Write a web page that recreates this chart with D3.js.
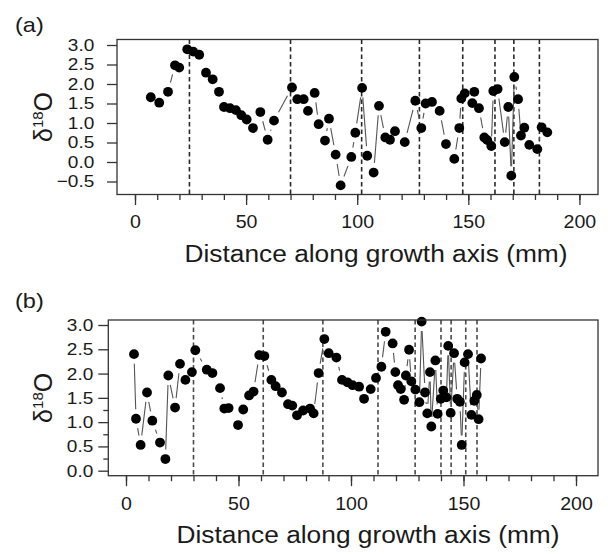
<!DOCTYPE html>
<html>
<head>
<meta charset="utf-8">
<script src="https://cdn.jsdelivr.net/npm/d3@7"></script>
<style>
body { margin: 0; background: #fff; }
text { font-family: "Liberation Sans", Arial, sans-serif; fill: #1a1a1a; }
</style>
</head>
<body>
<script>

// panel (a)
var aDist = [7.1, 10.9, 14.85, 18.0, 19.9, 23.5, 26.2, 28.9, 31.95, 34.95, 37.8, 40.05, 42.75, 45.4, 47.85,
  50.25, 53.1, 56.4, 59.7, 62.55, 70.65, 73.05, 75.9, 77.85, 80.85, 82.65, 85.5, 87.3, 90.3, 92.55,
  97.35, 99.15, 102.2, 104.5, 107.4, 109.8, 112.65, 114.75, 117.0, 121.4, 126.15, 128.85, 130.8, 133.65,
  137.1, 139.95, 143.7, 145.95, 146.85, 148.4, 151.8, 152.7, 154.8, 157.2, 158.55, 160.35, 161.25, 163.2,
  166.4, 168.0, 169.35, 170.7, 172.4, 173.7, 175.2, 177.45, 181.05, 183.0, 185.55];
var aD18O = [1.66, 1.52, 1.80, 2.48, 2.42, 2.89, 2.83, 2.75, 2.29, 2.12, 1.80, 1.41, 1.38, 1.33, 1.20,
  1.09, 0.87, 1.28, 0.57, 1.06, 1.91, 1.61, 1.61, 1.31, 1.77, 0.97, 0.55, 1.11, 0.19, -0.60,
  0.13, 0.75, 1.90, 0.16, -0.27, 1.44, 0.63, 0.57, 0.79, 0.51, 1.57, 0.87, 1.50, 1.54,
  1.31, 0.46, 0.08, 0.87, 1.63, 1.76, 1.51, 1.80, 1.38, 0.63, 0.56, 0.41, 1.82, 1.87,
  0.51, 1.41, -0.35, 2.18, 1.61, 0.68, 0.88, 0.44, 0.33, 0.89, 0.76];
var aBands = [24.5, 70, 102, 128, 147.5, 162, 170.5, 182];
var aYTicks = [-0.5, 0, 0.5, 1.0, 1.5, 2.0, 2.5, 3.0];

// panel (b)
var bDist = [3.56, 4.44, 6.5, 9.33, 11.7, 15.1, 17.5, 18.8, 21.8, 24.0, 26.4, 29.3, 30.8, 35.9, 38.4,
  41.8, 43.7, 45.6, 49.8, 52.1, 54.7, 56.7, 59.2, 61.5, 64.6, 66.5, 69.3, 72.0, 73.9, 76.0,
  78.7, 81.8, 83.4, 85.6, 88.15, 90.1, 93.5, 96.0, 98.4, 100.7, 103.6, 105.8, 108.75, 111.1,
  113.5, 115.4, 118.5, 119.7, 120.9, 122.1, 123.6, 124.4, 125.8, 126.8, 128.6, 130.4, 131.4,
  132.9, 133.9, 135.1, 135.7, 137.5, 138.5, 139.9, 141.0, 142.4, 143.2, 144.3, 145.8, 147.2,
  148.4, 149.2, 150.5, 152.0, 153.5, 154.8, 155.9, 156.7, 157.8];
var bD18O = [2.40, 1.07, 0.53, 1.61, 1.03, 0.58, 0.24, 1.96, 1.30, 2.20, 1.87, 2.03, 2.48, 2.08, 2.01,
  1.70, 1.28, 1.29, 0.94, 1.26, 1.55, 1.63, 2.38, 2.36, 1.87, 1.74, 1.61, 1.37, 1.34, 1.14,
  1.24, 1.28, 1.18, 2.01, 2.71, 2.42, 2.33, 1.87, 1.82, 1.76, 1.73, 1.48, 1.68, 1.91,
  2.14, 2.86, 2.62, 2.03, 1.76, 1.68, 1.46, 1.96, 2.49, 1.84, 1.67, 1.41, 3.07,
  1.61, 1.18, 2.03, 0.91, 2.27, 1.17, 1.48, 1.65, 1.51, 2.57, 1.19, 2.42, 1.48,
  1.42, 0.53, 2.23, 2.40, 1.15, 1.44, 1.56, 1.06, 2.31];
var bBands = [30, 61, 87.5, 112, 128.5, 140, 144.5, 151, 156];
var bYTicks = [0, 0.5, 1.0, 1.5, 2.0, 2.5, 3.0];
var bYMinor = [0.25, 0.75, 1.25];

var xTicks = [0, 50, 100, 150, 200];
var xMinor = d3.range(0, 201, 10);

var sx = 1.12; // the picture is a little wider than tall

var svg = d3.select("body").append("svg")
  .attr("width", 608).attr("height", 554);

function panel(p) {
  var x = d3.scaleLinear().domain([0, 200]).range(p.xr);
  var y = d3.scaleLinear().domain(p.yd).range(p.yr);
  var g = svg.append("g");

  // dashed bands
  g.selectAll(".band").data(p.bands).enter().append("line")
    .attr("x1", d => x(d)).attr("x2", d => x(d))
    .attr("y1", p.top).attr("y2", p.bottom)
    .style("stroke", p.bandColor).style("stroke-width", 1.6)
    .style("stroke-dasharray", "4.5,3");

  // lines between points, broken near each point (R type="b")
  var pts = p.dist.map((d, i) => [x(d), y(p.vals[i])]);
  var gap = 9.5, segs = [];
  for (var i = 1; i < pts.length; i++) {
    var a = pts[i - 1], b = pts[i];
    var dx = b[0] - a[0], dy = b[1] - a[1], len = Math.sqrt(dx * dx + dy * dy);
    if (len <= 2 * gap + 1) continue;
    var ux = dx / len, uy = dy / len;
    segs.push([a[0] + ux * gap, a[1] + uy * gap, b[0] - ux * gap, b[1] - uy * gap]);
  }
  g.selectAll(".seg").data(segs).enter().append("line")
    .attr("x1", d => d[0]).attr("y1", d => d[1])
    .attr("x2", d => d[2]).attr("y2", d => d[3])
    .style("stroke", "#555").style("stroke-width", 1.1);

  g.selectAll(".pt").data(pts).enter().append("circle")
    .attr("cx", d => d[0]).attr("cy", d => d[1])
    .attr("r", 4.9).style("fill", "#000");

  // box
  g.append("rect")
    .attr("x", p.left).attr("y", p.top)
    .attr("width", p.right - p.left).attr("height", p.bottom - p.top)
    .style("fill", "none").style("stroke", "#333").style("stroke-width", 1.3);

  // x axis
  var xa = g.append("g").attr("transform", "translate(0," + p.bottom + ")");
  xa.call(d3.axisBottom(x).tickValues(xMinor).tickSize(5.5).tickFormat(""));
  var xb = g.append("g").attr("transform", "translate(0," + p.bottom + ")");
  xb.call(d3.axisBottom(x).tickValues(xTicks).tickSize(10.5).tickPadding(10.9).tickFormat(d3.format("d")));
  g.selectAll(".domain").remove();
  xb.selectAll("text").style("font-size", "17.5px").attr("transform", "scale(" + sx + ",1)");

  // y axis
  var ya = g.append("g").attr("transform", "translate(" + p.left + ",0)");
  ya.call(d3.axisLeft(y).tickValues(p.yTicks).tickSize(10).tickPadding(p.yPad).tickFormat(d3.format(".1f")));
  ya.select(".domain").remove();
  ya.selectAll("text").style("font-size", "17px").attr("transform", "scale(" + sx + ",1)");
  if (p.yMinor) {
    var ym = g.append("g").attr("transform", "translate(" + p.left + ",0)");
    ym.call(d3.axisLeft(y).tickValues(p.yMinor).tickSize(5).tickFormat(""));
    ym.select(".domain").remove();
  }
  g.selectAll(".tick line").style("stroke", "#333").style("stroke-width", 1.3);

  // axis titles
  g.append("text")
    .attr("transform", "translate(" + p.titleX + "," + (p.bottom + 67.4) + ") scale(" + sx + ",1)")
    .attr("text-anchor", "middle").style("font-size", "23.5px")
    .text("Distance along growth axis (mm)");

  var yl = g.append("text")
    .attr("transform", "translate(52," + ((p.top + p.bottom) / 2) + ") rotate(-90)")
    .attr("text-anchor", "middle").style("font-size", "25px");
  yl.append("tspan").text("δ");
  yl.append("tspan").attr("dy", -9).style("font-size", "15px").text("18");
  yl.append("tspan").attr("dy", 9).text("O");

  g.append("text")
    .attr("transform", "translate(15," + p.labelY + ") scale(" + sx + ",1)")
    .style("font-size", "21px").text(p.label);
}

panel({
  label: "(a)", labelY: 32.3,
  dist: aDist, vals: aD18O, bands: aBands, bandColor: "#2a2a2a",
  left: 117, right: 598, top: 39.5, bottom: 194.5,
  xr: [135, 579.4], yd: [3.0, -0.5], yr: [45, 181.5],
  yTicks: aYTicks, yPad: 10.3, titleX: 376
});

panel({
  label: "(b)", labelY: 307.5,
  dist: bDist, vals: bD18O, bands: bBands, bandColor: "#4a4a4a",
  left: 108.3, right: 598, top: 320, bottom: 475.7,
  xr: [126, 576], yd: [0, 3.0], yr: [470.7, 325],
  yTicks: bYTicks, yMinor: bYMinor, yPad: 3.4, titleX: 368
});

</script>
</body>
</html>
